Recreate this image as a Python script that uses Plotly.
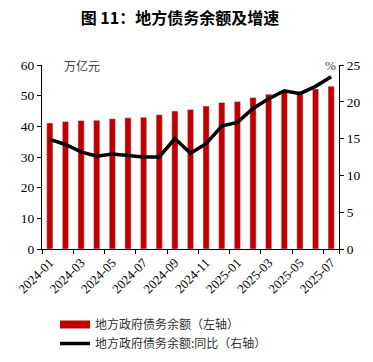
import plotly.graph_objects as go

months = ["2024-01","2024-02","2024-03","2024-04","2024-05","2024-06","2024-07","2024-08","2024-09",
          "2024-10","2024-11","2024-12","2025-01","2025-02","2025-03","2025-04","2025-05","2025-06","2025-07"]
balance = [41.1, 41.6, 41.9, 42.0, 42.5, 42.8, 43.0, 43.8, 45.0, 45.5, 46.6, 47.8, 48.1, 49.4, 50.5, 51.3, 51.4, 52.2, 53.1]
yoy = [14.9, 14.2, 13.2, 12.6, 12.9, 12.7, 12.5, 12.5, 15.0, 13.0, 14.3, 16.7, 17.2, 19.1, 20.4, 21.5, 21.1, 22.1, 23.4]
tick_months = months[::2]

bar_name = "地方政府债务余额（左轴）"
line_name = "地方政府债务余额:同比（右轴）"
RED = "#C00000"
cjk = "Noto Sans CJK SC"
serif = "Liberation Serif"

fig = go.Figure()
fig.add_trace(go.Bar(x=months, y=balance, name=bar_name, marker_color=RED,
                     showlegend=False, legendgroup="b"))
fig.add_trace(go.Scatter(x=[None], y=[None], mode="lines", name=bar_name,
                         line=dict(color=RED, width=8), legendgroup="b"))
fig.add_trace(go.Scatter(x=months, y=yoy, name=line_name, mode="lines",
                         line=dict(color="black", width=3.5), yaxis="y2"))

fig.update_layout(
    width=373, height=362,
    margin=dict(l=34, r=42, t=57, b=121, autoexpand=False),
    paper_bgcolor="white", plot_bgcolor="white",
    bargap=0.6,
    title=dict(text="<b>图 11：地方债务余额及增速</b>", x=172/373, xanchor="center",
               y=1-5/362, yanchor="top", font=dict(family=cjk, size=16, color="black")),
    xaxis=dict(type="category", categoryorder="array", categoryarray=months,
               tickmode="array", tickvals=tick_months, ticktext=tick_months,
               tickson="boundaries", tickangle=-45, ticks="outside", ticklen=4,
               tickcolor="black", showline=True, linecolor="black", linewidth=1,
               showgrid=False, tickfont=dict(family=serif, size=13, color="black")),
    yaxis=dict(range=[0, 60], dtick=10, ticks="outside", ticklen=4, tickcolor="black",
               showline=True, linecolor="black", linewidth=1, showgrid=False, zeroline=False,
               tickfont=dict(family=serif, size=13.5, color="black")),
    yaxis2=dict(range=[0, 25], dtick=5, overlaying="y", side="right", ticks="outside",
                ticklen=4, tickcolor="black", showline=True, linecolor="black", linewidth=1,
                showgrid=False, zeroline=False,
                tickfont=dict(family=serif, size=13.5, color="black")),
    legend=dict(orientation="v", x=(55-42)/297, xanchor="left",
                y=-(310-249)/184, yanchor="top", font=dict(family=cjk, size=12, color="#333333"),
                itemwidth=30, tracegroupgap=0, bgcolor="rgba(0,0,0,0)"),
    annotations=[
        dict(text="万亿元", xref="paper", yref="paper", x=(62-42)/297, y=1.0, xanchor="left",
             yanchor="middle", showarrow=False, font=dict(family=cjk, size=12, color="#404040")),
        dict(text="%", xref="paper", yref="paper", x=(330-42)/297, y=1.0, xanchor="center",
             yanchor="middle", showarrow=False, font=dict(family=serif, size=13, color="#404040")),
    ],
)

fig.write_html("out.html")
